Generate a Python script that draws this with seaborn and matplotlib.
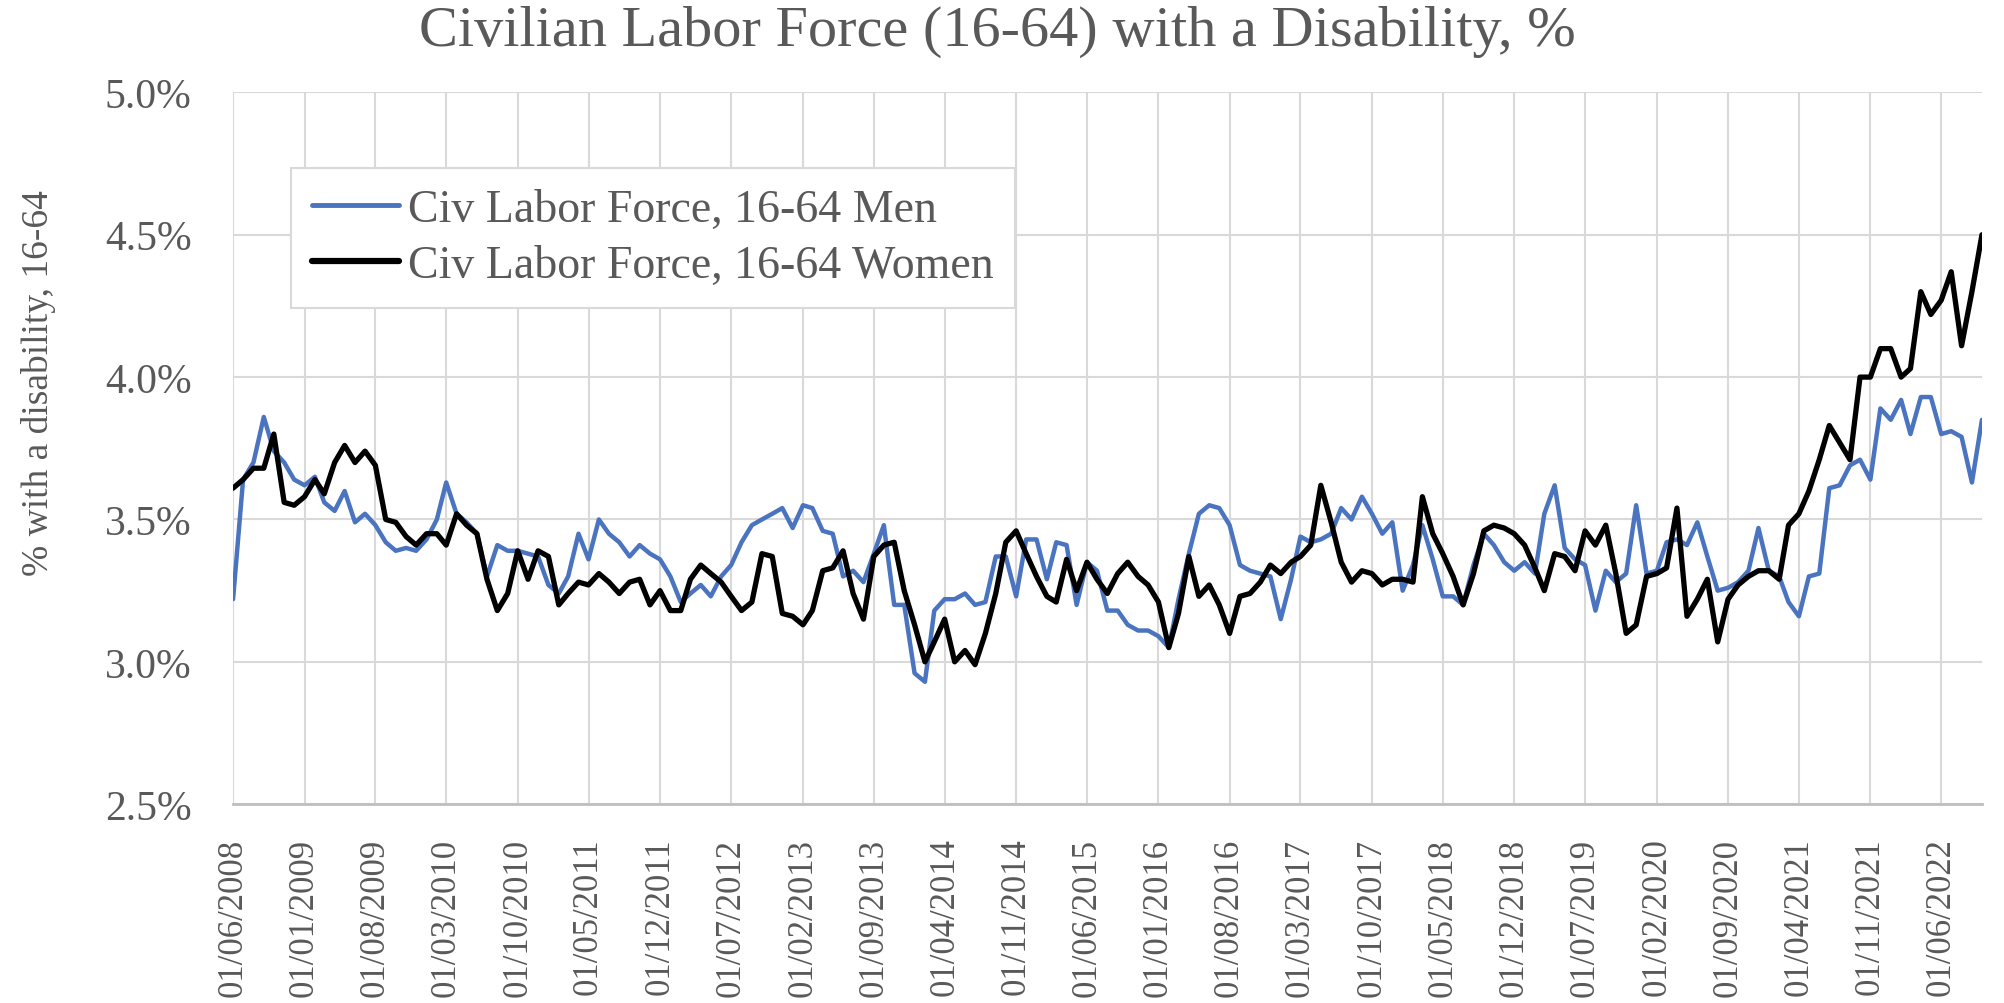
import matplotlib
matplotlib.use('Agg')
import matplotlib.pyplot as plt
import pandas as pd
import seaborn as sns
from matplotlib.ticker import FuncFormatter

# monthly series, June 2008 - October 2022 (% of labor force 16-64 with a disability)
start_month = '2008-06-01'
men = [
    3.22, 3.64, 3.70, 3.86, 3.74, 3.70, 3.64, 3.62, 3.65, 3.56,
    3.53, 3.60, 3.49, 3.52, 3.48, 3.42, 3.39, 3.40, 3.39, 3.43,
    3.50, 3.63, 3.52, 3.49, 3.45, 3.30, 3.41, 3.39, 3.39, 3.38,
    3.37, 3.27, 3.24, 3.30, 3.45, 3.36, 3.50, 3.45, 3.42, 3.37,
    3.41, 3.38, 3.36, 3.30, 3.21, 3.24, 3.27, 3.23, 3.30, 3.34,
    3.42, 3.48, 3.50, 3.52, 3.54, 3.47, 3.55, 3.54, 3.46, 3.45,
    3.30, 3.32, 3.28, 3.38, 3.48, 3.20, 3.20, 2.96, 2.93, 3.18,
    3.22, 3.22, 3.24, 3.20, 3.21, 3.37, 3.37, 3.23, 3.43, 3.43,
    3.29, 3.42, 3.41, 3.20, 3.35, 3.32, 3.18, 3.18, 3.13, 3.11,
    3.11, 3.09, 3.05, 3.22, 3.38, 3.52, 3.55, 3.54, 3.48, 3.34,
    3.32, 3.31, 3.30, 3.15, 3.29, 3.44, 3.42, 3.43, 3.45, 3.54,
    3.50, 3.58, 3.52, 3.45, 3.49, 3.25, 3.34, 3.48, 3.36, 3.23,
    3.23, 3.20, 3.34, 3.45, 3.41, 3.35, 3.32, 3.35, 3.31, 3.52,
    3.62, 3.40, 3.36, 3.34, 3.18, 3.32, 3.28, 3.31, 3.55, 3.31,
    3.32, 3.42, 3.43, 3.41, 3.49, 3.37, 3.25, 3.26, 3.28, 3.32,
    3.47, 3.32, 3.30, 3.21, 3.16, 3.30, 3.31, 3.61, 3.62, 3.69,
    3.71, 3.64, 3.89, 3.85, 3.92, 3.80, 3.93, 3.93, 3.80, 3.81,
    3.79, 3.63, 3.85,
]
women = [
    3.61, 3.64, 3.68, 3.68, 3.80, 3.56, 3.55, 3.58, 3.64, 3.59,
    3.70, 3.76, 3.70, 3.74, 3.69, 3.50, 3.49, 3.44, 3.41, 3.45,
    3.45, 3.41, 3.52, 3.48, 3.45, 3.29, 3.18, 3.24, 3.39, 3.29,
    3.39, 3.37, 3.20, 3.24, 3.28, 3.27, 3.31, 3.28, 3.24, 3.28,
    3.29, 3.20, 3.25, 3.18, 3.18, 3.29, 3.34, 3.31, 3.28, 3.23,
    3.18, 3.21, 3.38, 3.37, 3.17, 3.16, 3.13, 3.18, 3.32, 3.33,
    3.39, 3.24, 3.15, 3.37, 3.41, 3.42, 3.25, 3.13, 3.00, 3.07,
    3.15, 3.00, 3.04, 2.99, 3.10, 3.24, 3.42, 3.46, 3.38, 3.30,
    3.23, 3.21, 3.36, 3.25, 3.35, 3.29, 3.24, 3.31, 3.35, 3.30,
    3.27, 3.21, 3.05, 3.17, 3.37, 3.23, 3.27, 3.20, 3.10, 3.23,
    3.24, 3.28, 3.34, 3.31, 3.35, 3.37, 3.41, 3.62, 3.49, 3.35,
    3.28, 3.32, 3.31, 3.27, 3.29, 3.29, 3.28, 3.58, 3.45, 3.38,
    3.30, 3.20, 3.31, 3.46, 3.48, 3.47, 3.45, 3.41, 3.33, 3.25,
    3.38, 3.37, 3.32, 3.46, 3.41, 3.48, 3.31, 3.10, 3.13, 3.30,
    3.31, 3.33, 3.54, 3.16, 3.22, 3.29, 3.07, 3.22, 3.27, 3.30,
    3.32, 3.32, 3.29, 3.48, 3.52, 3.60, 3.71, 3.83, 3.77, 3.71,
    4.00, 4.00, 4.10, 4.10, 4.00, 4.03, 4.30, 4.22, 4.27, 4.37,
    4.11, 4.30, 4.50,
]
series_names = ['Civ Labor Force, 16-64 Men', 'Civ Labor Force, 16-64 Women']
y_ticks = [2.5, 3.0, 3.5, 4.0, 4.5, 5.0]
tick_every = 7  # months between x labels

text_color = '#595959'
grid_color = '#d9d9d9'
palette = ['#4a74bf', '#000000']

if __name__ == '__main__':
    dates = pd.date_range(start_month, periods=len(men), freq='MS')
    df = pd.DataFrame({'date': dates, series_names[0]: men, series_names[1]: women})
    long = df.melt(id_vars='date', var_name='series', value_name='pct')

    sns.set_style('white')
    plt.rcParams['font.family'] = ['Liberation Serif', 'DejaVu Serif']

    fig = plt.figure(figsize=(20.04, 10.04), dpi=100)
    ax = fig.add_axes([0.1163, 0.198, 0.8727, 0.709])

    sns.lineplot(data=long, x='date', y='pct', hue='series', palette=palette,
                 ax=ax, legend=True)
    for line, lw in zip(ax.lines, [3.2, 3.8]):
        line.set_linewidth(lw)
        line.set_solid_joinstyle('round')

    # x axis: a label every 7 months
    tick_dates = dates[::tick_every]
    ax.set_xticks(tick_dates)
    ax.set_xticklabels([d.strftime('%d/%m/%Y') for d in tick_dates],
                       rotation=90, fontsize=25, color=text_color)
    ax.set_xlim(dates[0], dates[-1])

    ax.set_ylim(y_ticks[0], y_ticks[-1])
    ax.set_yticks(y_ticks)
    ax.yaxis.set_major_formatter(FuncFormatter(lambda v, p: f'{v:.1f}%'))
    ax.tick_params(axis='y', labelsize=30, labelcolor=text_color, length=0, pad=30)
    ax.tick_params(axis='x', length=0, pad=24)

    ax.grid(True, color=grid_color, linewidth=1.5)
    ax.set_axisbelow(True)
    for side in ['top', 'right', 'left']:
        ax.spines[side].set_visible(False)
    ax.spines['bottom'].set_color('#bfbfbf')
    ax.spines['bottom'].set_linewidth(2)

    ax.set_xlabel('')
    ax.set_ylabel('')
    fig.text(0.019, 0.618, '% with a disability, 16-64', rotation=90,
             ha='center', va='center', fontsize=27, color=text_color)
    fig.text(0.4975, 0.968, 'Civilian Labor Force (16-64) with a Disability, %',
             ha='center', va='center', fontsize=42, color=text_color)

    handles, labels = ax.get_legend_handles_labels()
    leg = ax.legend(handles, labels, loc='upper left',
                    bbox_to_anchor=(0.1454, 0.832), bbox_transform=fig.transFigure,
                    borderaxespad=0, fontsize=33, frameon=True, fancybox=False,
                    framealpha=1, edgecolor=grid_color, handlelength=1.9,
                    handletextpad=0.2, borderpad=0.45, labelspacing=0.3,
                    labelcolor=text_color)
    leg.get_frame().set_linewidth(1.5)
    for h, lw in zip(leg.get_lines(), [3.5, 4.5]):
        h.set_linewidth(lw)

    fig.savefig('out.png', dpi=100, facecolor='white')
